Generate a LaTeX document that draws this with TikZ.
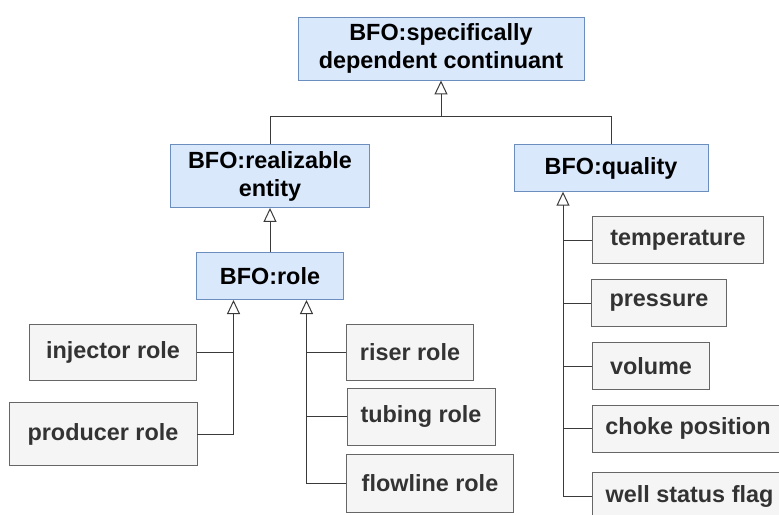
\documentclass[tikz,border=0pt]{standalone}
\usepackage{fontspec}
\setmainfont{Liberation Sans}
\usepackage{tikz}
\usetikzlibrary{arrows.meta,calc,positioning}
\usepackage{xcolor}
\definecolor{bfofill}{HTML}{DAE8FC}
\definecolor{bfoline}{HTML}{6C8EBF}
\definecolor{subfill}{HTML}{F5F5F5}
\definecolor{subline}{HTML}{666666}
\definecolor{subtext}{HTML}{333333}
\definecolor{edge}{HTML}{3A3A3A}

\tikzset{
    bfo/.style={draw=bfoline, fill=bfofill, line width=0.9pt, align=center,
        font=\fontsize{23.4}{28}\selectfont\bfseries, text=black, inner sep=0pt},
    sub/.style={draw=subline, fill=subfill, line width=0.9pt, align=center,
        font=\fontsize{23.4}{28}\selectfont\bfseries, text=subtext, inner sep=0pt},
    isa/.style={-{Triangle[open,length=14pt,width=13pt]}},
}

\begin{document}
\begin{tikzpicture}[x=1pt,y=-1pt,line width=1pt,draw=edge]
    \useasboundingbox (0,0) rectangle (779,514);
    \clip (0,0) rectangle (779,514);
    % upper classes
    \node[bfo, minimum width=286pt, minimum height=63pt] (sdc) at (441,48.5) {BFO:specifically\\dependent continuant};
    \node[bfo, minimum width=199pt, minimum height=63pt] (real) at (270,176) {BFO:realizable\\entity};
    \node[bfo, minimum width=194pt, minimum height=47pt] (qual) at (611,168.3) {BFO:quality};
    \node[bfo, minimum width=147pt, minimum height=47pt] (role) at (270,276.3) {BFO:role};
    % roles
    \node[sub, minimum width=167pt, minimum height=56pt] (inj) at (113,352) {injector role};
    \node[sub, minimum width=188pt, minimum height=63pt] (prod) at (103,434.3) {producer role};
    \node[sub, minimum width=127pt, minimum height=56pt] (riser) at (410,352) {riser role};
    \node[sub, minimum width=148pt, minimum height=57pt] (tub) at (421,416.7) {tubing role};
    \node[sub, minimum width=167pt, minimum height=58pt] (flow) at (430,483.2) {flowline role};
    % qualities
    \node[sub, minimum width=171pt, minimum height=47pt] (temp) at (678,240) {temperature};
    \node[sub, minimum width=135pt, minimum height=47pt] (pres) at (659,303) {pressure};
    \node[sub, minimum width=117pt, minimum height=47pt] (vol) at (651,366) {volume};
    \node[sub, minimum width=192pt, minimum height=47pt] (choke) at (688,428.7) {choke position};
    \node[sub, minimum width=195pt, minimum height=47pt] (well) at (689.5,496) {well status flag};

    % is-a edges
    \coordinate (top) at (441,116);
    \coordinate (rl) at (233.5,300);
    \coordinate (rr) at (306.5,300);
    \coordinate (ql) at (563,191.7);
    \draw[isa] (real.north) |- (top) -- (sdc.south);
    \draw (qual.north) |- (top);
    \draw[isa] (role.north) -- (real.south);
    \draw[isa] (prod.east) -| (rl);
    \draw (inj.east) -- (inj.east -| rl);
    \draw[isa] (flow.west) -| (rr);
    \draw (riser.west) -- (riser.west -| rr);
    \draw (tub.west) -- (tub.west -| rr);
    \draw[isa] (well.west) -| (ql);
    \foreach \q in {temp,pres,vol,choke}
        \draw (\q.west) -- (\q.west -| ql);
\end{tikzpicture}
\end{document}
